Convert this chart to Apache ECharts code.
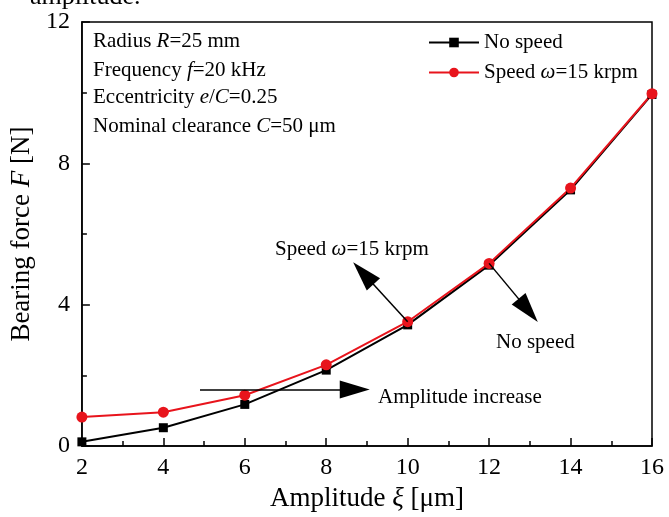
<!DOCTYPE html>
<html>
<head>
<meta charset="utf-8">
<script src="https://cdn.jsdelivr.net/npm/echarts@6/dist/echarts.min.js"></script>
<style>
  html, body { margin: 0; padding: 0; background: #fff; }
  #chart { width: 669px; height: 517px; }
</style>
</head>
<body>
<div id="chart"></div>
<script>
// amplitude in um
const amplitude = [2, 4, 6, 8, 10, 12, 14, 16];
// bearing force in N
const noSpeed = [0.12, 0.52, 1.18, 2.15, 3.43, 5.12, 7.25, 9.95];
const withSpeed = [0.82, 0.96, 1.44, 2.3, 3.52, 5.17, 7.3, 9.97];
const xTicks = [2, 4, 6, 8, 10, 12, 14, 16];
const yTicks = [0, 4, 8, 12];

const serif = '"Liberation Serif", "DejaVu Serif", serif';
const rich = {
  i: { fontStyle: 'italic', fontFamily: serif, fontSize: 21, color: '#000' }
};

const chart = echarts.init(document.getElementById('chart'));

function pairs(ys) {
  return amplitude.map((x, i) => [x, ys[i]]);
}

// arrows as [from, to] in data coords (to = middle of the head)
const arrowStyle = { color: '#000', width: 1.5, type: 'solid' };
const arrows = [
  [[4.9, 1.6], [8.7, 1.6]],
  [[10, 3.52], [8.91, 4.89]],
  [[12, 5.17], [12.96, 3.84]]
];

chart.setOption({
  animation: false,
  textStyle: { fontFamily: serif, color: '#000' },
  grid: {
    left: 81, right: 17, top: 22, bottom: 64,
    show: true, borderColor: '#000', borderWidth: 1.5
  },
  legend: {
    left: 423, top: 27, orient: 'vertical',
    itemWidth: 50, itemHeight: 12, itemGap: 9,
    textStyle: { fontFamily: serif, fontSize: 21, color: '#000', rich: { i: { fontStyle: 'italic', fontFamily: serif, fontSize: 21 } } },
    formatter: name => name === 'Speed' ? 'Speed {i|ω}=15 krpm' : name,
    data: ['No speed', 'Speed']
  },
  xAxis: {
    type: 'value', min: 2, max: 16, interval: 2,
    name: 'Amplitude {i|ξ} [μm]', nameLocation: 'middle', nameGap: 37,
    nameTextStyle: { fontSize: 27, fontFamily: serif, color: '#000', rich: { i: { fontStyle: 'italic', fontSize: 27, fontFamily: serif } } },
    axisLine: { lineStyle: { color: '#000', width: 1.5 } },
    axisTick: { inside: true, length: 8, lineStyle: { color: '#000', width: 1.5 } },
    minorTick: { show: true, splitNumber: 2, length: 5, lineStyle: { color: '#000', width: 1.5 } },
    axisLabel: { fontSize: 24, color: '#000', margin: 10, fontFamily: serif,
      customValues: xTicks },
    splitLine: { show: false }
  },
  yAxis: {
    type: 'value', min: 0, max: 12, interval: 4,
    name: 'Bearing force {i|F} [N]', nameLocation: 'middle', nameGap: 44,
    nameTextStyle: { fontSize: 27, fontFamily: serif, color: '#000', rich: { i: { fontStyle: 'italic', fontSize: 27, fontFamily: serif } } },
    axisLine: { lineStyle: { color: '#000', width: 1.5 } },
    axisTick: { inside: true, length: 8, lineStyle: { color: '#000', width: 1.5 } },
    minorTick: { show: true, splitNumber: 2, length: 5, lineStyle: { color: '#000', width: 1.5 } },
    axisLabel: { fontSize: 24, color: '#000', margin: 12, fontFamily: serif,
      customValues: yTicks },
    splitLine: { show: false }
  },
  series: [
    {
      name: 'No speed', type: 'line', data: pairs(noSpeed),
      symbol: 'rect', symbolSize: 9,
      lineStyle: { color: '#000', width: 2 },
      itemStyle: { color: '#000' },
      markLine: {
        silent: true, symbol: ['none', 'triangle'], symbolSize: [18, 30],
        lineStyle: arrowStyle, label: { show: false },
        data: arrows.map(a => [{ coord: a[0] }, { coord: a[1] }])
      }
    },
    {
      name: 'Speed', type: 'line', data: pairs(withSpeed),
      symbol: 'circle', symbolSize: 11,
      lineStyle: { color: '#e8141c', width: 2 },
      itemStyle: { color: '#e8141c' },
      z: 3
    }
  ],
  graphic: [
    { type: 'text', left: 30, top: -16, style: { text: 'amplitude.', font: '26px ' + serif, fill: '#000' } },
    { type: 'text', left: 93, top: 31, style: { text: 'Radius {i|R}=25 mm', font: '21px ' + serif, fill: '#000', rich } },
    { type: 'text', left: 93, top: 60, style: { text: 'Frequency {i|f}=20 kHz', font: '21px ' + serif, fill: '#000', rich } },
    { type: 'text', left: 93, top: 87, style: { text: 'Eccentricity {i|e}/{i|C}=0.25', font: '21px ' + serif, fill: '#000', rich } },
    { type: 'text', left: 93, top: 116, style: { text: 'Nominal clearance {i|C}=50 μm', font: '21px ' + serif, fill: '#000', rich } },
    { type: 'text', left: 275, top: 239, style: { text: 'Speed {i|ω}=15 krpm', font: '21px ' + serif, fill: '#000', rich } },
    { type: 'text', left: 496, top: 332, style: { text: 'No speed', font: '21px ' + serif, fill: '#000' } },
    { type: 'text', left: 378, top: 387, style: { text: 'Amplitude increase', font: '21px ' + serif, fill: '#000' } }
  ]
});
</script>
</body>
</html>
